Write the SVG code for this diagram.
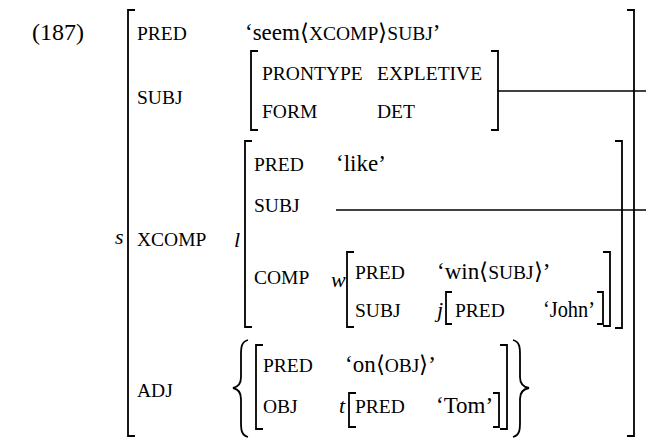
<svg xmlns="http://www.w3.org/2000/svg" width="646" height="438" viewBox="0 0 646 438">
  <style>
    .rm { font-size: 23px; }
    .sc { font-size: 19.5px; }
    .it { font-size: 22px; font-style: italic; }
    .br { fill: none; stroke: #000; stroke-width: 1.8; }
    .ln { fill: none; stroke: #000; stroke-width: 1.3; }
  </style>

  <g font-family="Liberation Serif" fill="#000">
  <text id="ex-number" font-size="24" x="32" y="40">(187)</text>

  <!-- outer f-structure s -->
  <g id="f-s">
    <path class="br" d="M135 10 H128 V436 H135"/>
    <path class="br" d="M627 10 H634 V436 H627"/>
    <text class="it" x="115" y="244">s</text>
    <text class="sc" x="137" y="40">PRED</text>
    <text class="rm" x="245" y="40">‘seem⟨<tspan class="sc">XCOMP</tspan>⟩<tspan class="sc">SUBJ</tspan>’</text>
    <text class="sc" x="137" y="104">SUBJ</text>
    <text class="sc" x="137" y="246">XCOMP</text>
    <text class="sc" x="137" y="397">ADJ</text>
  </g>

  <!-- expletive subject -->
  <g id="f-subj">
    <path class="br" d="M258 51 H251 V130 H258"/>
    <path class="br" d="M491 51 H498 V130 H491"/>
    <text class="sc" x="262" y="80">PRONTYPE</text>
    <text class="sc" x="377" y="80">EXPLETIVE</text>
    <text class="sc" x="262" y="118">FORM</text>
    <text class="sc" x="377" y="118">DET</text>
  </g>

  <!-- xcomp l -->
  <g id="f-l">
    <path class="br" d="M252 141 H245 V327 H252"/>
    <path class="br" d="M615 141 H622 V328 H615"/>
    <text class="it" x="234" y="247">l</text>
    <text class="sc" x="254" y="171">PRED</text>
    <text class="rm" x="336" y="171">‘like’</text>
    <text class="sc" x="254" y="212">SUBJ</text>
    <text class="sc" x="254" y="284">COMP</text>
  </g>

  <!-- comp w -->
  <g id="f-w">
    <path class="br" d="M354 252 H347 V327 H354"/>
    <path class="br" d="M603 252 H610 V326 H603"/>
    <text class="it" x="331" y="287" font-size="21">w</text>
    <text class="sc" x="355" y="279">PRED</text>
    <text class="rm" x="437" y="279">‘win⟨<tspan class="sc">SUBJ</tspan>⟩’</text>
    <text class="sc" x="355" y="317">SUBJ</text>
  </g>

  <!-- subject j -->
  <g id="f-j">
    <path class="br" d="M452 292 H446 V324 H452"/>
    <path class="br" d="M597 292 H603 V324 H597"/>
    <text class="it" x="437" y="317">j</text>
    <text class="sc" x="455" y="317">PRED</text>
    <text class="rm" x="543" y="317" textLength="52" lengthAdjust="spacingAndGlyphs">‘John’</text>
  </g>

  <!-- adjunct set -->
  <g id="adj-set">
    <path class="br" d="M248 340 C241 342 241 348 241 355 V377 C241 384 238 387 233 388 C238 389 241 392 241 399 V422 C241 429 241 435 248 437"/>
    <path class="br" d="M513 340 C520 342 520 348 520 355 V377 C520 384 523 387 529 388 C523 389 520 392 520 399 V422 C520 429 520 435 513 437"/>
  </g>

  <g id="f-on">
    <path class="br" d="M263 345 H256 V429 H263"/>
    <path class="br" d="M500 345 H507 V429 H500"/>
    <text class="sc" x="263" y="372">PRED</text>
    <text class="rm" x="345" y="372">‘on⟨<tspan class="sc">OBJ</tspan>⟩’</text>
    <text class="sc" x="263" y="413">OBJ</text>
  </g>

  <!-- object t -->
  <g id="f-t">
    <path class="br" d="M356 393 H349 V427 H356"/>
    <path class="br" d="M493 393 H499 V427 H493"/>
    <text class="it" x="339" y="413">t</text>
    <text class="sc" x="355" y="413">PRED</text>
    <text class="rm" x="436" y="413">‘Tom’</text>
  </g>

  <!-- structure-sharing lines -->
  <g id="connectors">
    <line class="ln" x1="498" y1="91" x2="646" y2="91"/>
    <line class="ln" x1="336" y1="210" x2="646" y2="210"/>
  </g>
  </g>
</svg>
